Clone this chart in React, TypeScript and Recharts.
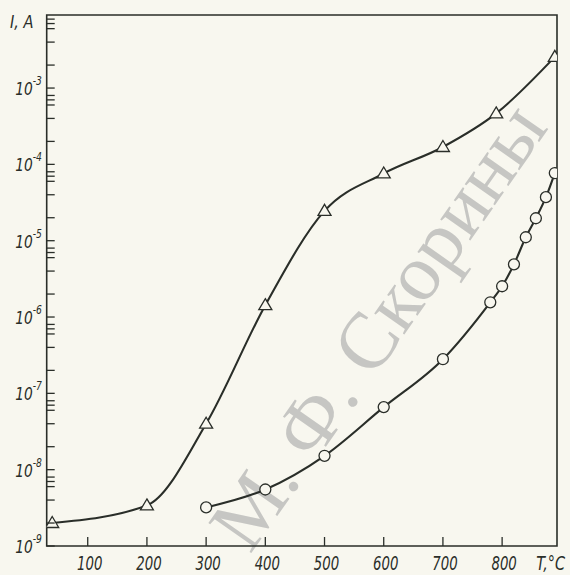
import React from "react";
import { LineChart, Line, XAxis, YAxis, ReferenceArea, Label } from "recharts";

// upper curve (triangles)
const triangleT = [40, 200, 300, 400, 500, 600, 700, 790, 889];
const triangleI = [2.0e-9, 3.4e-9, 4.0e-8, 1.43e-6, 2.46e-5, 7.6e-5, 1.69e-4, 4.65e-4, 2.56e-3];

// lower curve (circles)
const circleT = [300, 400, 500, 600, 700, 780, 800, 820, 840, 857, 874, 889];
const circleI = [
  3.2e-9, 5.5e-9, 1.52e-8, 6.6e-8, 2.8e-7, 1.56e-6, 2.53e-6, 4.9e-6, 1.11e-5, 1.97e-5, 3.72e-5, 7.7e-5,
];

const xTicks = [100, 200, 300, 400, 500, 600, 700, 800];
const yDecades = [-9, -8, -7, -6, -5, -4, -3];
const yMinorSteps = [2, 4, 6, 7, 8];

const X_DOMAIN: [number, number] = [30.7, 892.7];
const Y_DOMAIN: [number, number] = [1e-9, 9.06e-3];

const INK = "#2a2e29";
const PAPER = "#f8f7ef";
const FONT = "'DejaVu Sans Condensed', 'DejaVu Sans', sans-serif";

const triangleData = triangleT.map((t, i) => ({ t, i: triangleI[i] }));
const circleData = circleT.map((t, i) => ({ t, i: circleI[i] }));

const yTicks: number[] = [];
yDecades.forEach((e) => {
  yTicks.push(Math.pow(10, e));
  yMinorSteps.forEach((m) => {
    const v = m * Math.pow(10, e);
    if (v <= Y_DOMAIN[1]) yTicks.push(v);
  });
});

function Narrow({ x, y, size, sx, anchor, children }: any) {
  return (
    <text
      transform={`translate(${x},${y}) scale(${sx},1)`}
      fontSize={size}
      fontStyle="italic"
      fontFamily={FONT}
      textAnchor={anchor}
      fill={INK}
    >
      {children}
    </text>
  );
}

function XTick({ x, y, payload }: any) {
  return (
    <g>
      <line x1={x} y1={y} x2={x} y2={y - 9} stroke={INK} strokeWidth={1.3} />
      <Narrow x={x + 2} y={y + 23.5} size={20} sx={0.74} anchor="middle">
        {payload.value}
      </Narrow>
    </g>
  );
}

function YTick({ x, y, payload }: any) {
  const lg = Math.log10(payload.value);
  const exp = Math.round(lg);
  const decade = Math.abs(lg - exp) < 1e-6;
  return (
    <g>
      <line x1={x} y1={y} x2={x + 8} y2={y} stroke={INK} strokeWidth={1.3} />
      {decade && (
        <g>
          <Narrow x={x - 14} y={y + 7} size={18} sx={0.85} anchor="end">
            10
          </Narrow>
          <Narrow x={x - 14} y={y - 3} size={12} sx={0.85} anchor="start">
            {"-" + -exp}
          </Narrow>
        </g>
      )}
    </g>
  );
}

function Triangle({ cx, cy }: any) {
  if (cx == null || cy == null) return null;
  return (
    <path
      d={`M${cx},${cy - 6.5} L${cx + 6.5},${cy + 4.5} L${cx - 6.5},${cy + 4.5} Z`}
      fill={PAPER}
      stroke={INK}
      strokeWidth={1.3}
    />
  );
}

function Ring({ cx, cy }: any) {
  if (cx == null || cy == null) return null;
  return <circle cx={cx} cy={cy} r={5.5} fill={PAPER} stroke={INK} strokeWidth={1.3} />;
}

export default function App() {
  return (
    <div style={{ position: "absolute", left: 0, top: 0, width: 570, height: 575, background: PAPER, overflow: "hidden" }}>
      <svg width={570} height={575} style={{ position: "absolute", left: 0, top: 0 }}>
        <text
          transform="translate(250,555) rotate(-55)"
          textAnchor="start"
          fontFamily="'Liberation Serif', serif"
          fontSize={80}
          fill="#c6c6c3"
        >
          М. Ф. Скорины
        </text>
      </svg>
      <div style={{ position: "absolute", left: 0, top: 0 }}>
        <LineChart width={570} height={575} margin={{ top: 15, right: 13, left: 0, bottom: 0 }}>
          <XAxis
            dataKey="t"
            type="number"
            domain={X_DOMAIN}
            ticks={xTicks}
            interval={0}
            allowDataOverflow
            height={29}
            tickSize={0}
            tickMargin={0}
            axisLine={false}
            tick={<XTick />}
          >
            <Label
              content={(p: any) => {
                const vb = p.viewBox || { x: 47, y: 546, width: 510 };
                return (
                  <Narrow x={vb.x + vb.width + 8} y={vb.y + 23.5} size={20} sx={0.8} anchor="end">
                    T,°C
                  </Narrow>
                );
              }}
            />
          </XAxis>
          <YAxis
            type="number"
            scale="log"
            domain={Y_DOMAIN}
            ticks={yTicks}
            interval={0}
            allowDataOverflow
            width={46.7}
            tickSize={0}
            tickMargin={0}
            axisLine={false}
            tick={<YTick />}
          >
            <Label
              content={(p: any) => {
                const vb = p.viewBox || { x: 0, y: 15, width: 46.7 };
                return (
                  <Narrow x={vb.x + 10} y={vb.y + 13} size={18} sx={0.9} anchor="start">
                    I, A
                  </Narrow>
                );
              }}
            />
          </YAxis>
          <ReferenceArea
            x1={X_DOMAIN[0]}
            x2={X_DOMAIN[1]}
            y1={Y_DOMAIN[0]}
            y2={Y_DOMAIN[1]}
            fill="none"
            stroke={INK}
            strokeWidth={1.6}
            fillOpacity={0}
          />
          <Line
            data={triangleData}
            dataKey="i"
            type="monotone"
            stroke={INK}
            strokeWidth={2.1}
            dot={(p: any) => <Triangle key={`tr-${p.index}`} cx={p.cx} cy={p.cy} />}
            isAnimationActive={false}
          />
          <Line
            data={circleData}
            dataKey="i"
            type="monotone"
            stroke={INK}
            strokeWidth={2.1}
            dot={(p: any) => <Ring key={`ci-${p.index}`} cx={p.cx} cy={p.cy} />}
            isAnimationActive={false}
          />
        </LineChart>
      </div>
    </div>
  );
}
